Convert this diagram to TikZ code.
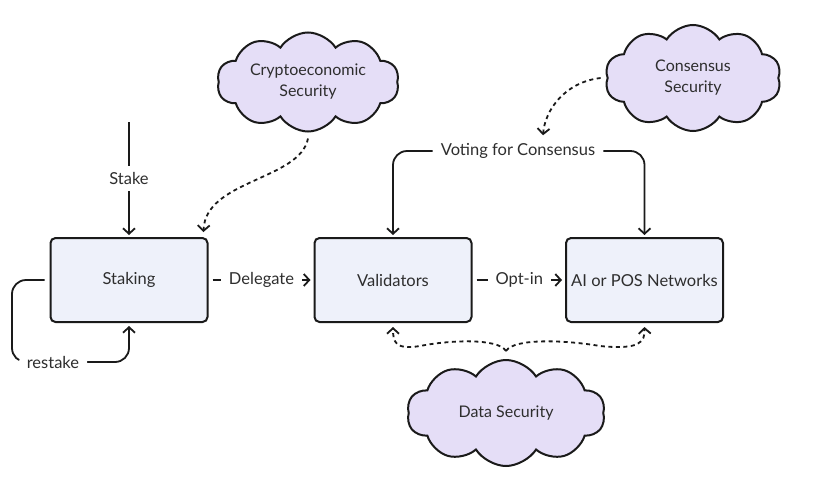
\documentclass[tikz,border=0pt]{standalone}
\usepackage{fontspec}
\setmainfont{Lato}
\usetikzlibrary{shapes.symbols,arrows.meta,calc}
\definecolor{linec}{HTML}{1A1A1A}
\definecolor{txtc}{HTML}{2E2E2E}
\definecolor{boxfill}{HTML}{EEF1FA}
\definecolor{cloudfill}{HTML}{E5DEF7}
\tikzset{
  box/.style={draw=linec,line width=2pt,fill=boxfill,rounded corners=5pt,minimum width=157pt,minimum height=84pt,text=txtc,font=\fontsize{16.5}{18}\selectfont},
  cloudy/.style={cloud,cloud puffs=10,cloud puff arc=115,cloud ignores aspect,draw=linec,line width=2pt,fill=cloudfill,text=txtc,align=center,font=\fontsize{16}{21}\selectfont},
  lbl/.style={fill=white,text=txtc,inner xsep=8pt,inner ysep=6pt,font=\fontsize{16.5}{18}\selectfont},
  arr/.style={draw=linec,line width=1.8pt,-{Straight Barb[length=5.5pt,width=12pt,line width=1.8pt]}},
  dasharr/.style={arr,dash pattern=on 4pt off 3.5pt},
}
\begin{document}
\begin{tikzpicture}[x=1pt,y=-1pt]
\useasboundingbox (0,0) rectangle (834,485);
\fill[white] (0,0) rectangle (834,485);
\node[box] (staking) at (129,280) {Staking};
\node[box] (valid) at (393,280) {Validators};
\node[box] (ai) at (644.5,280) {AI or POS Networks};
\node[cloudy,minimum width=182pt,minimum height=99pt] (crypto) at (308,82) {Cryptoeconomic\\Security};
\node[cloudy,minimum width=176pt,minimum height=106pt] (cons) at (693,78) {Consensus\\Security};
\node[cloudy,minimum width=198pt,minimum height=106pt] (data) at (506,413) {Data Security};
\coordinate (stakestart) at (129,122);
\draw[arr] (stakestart) -- node[lbl]{Stake} ($(staking.north)+(0,-2)$);
\draw[dasharr] ($(crypto.south)+(0,6)$) .. controls (300,180) and (205,180) .. ($(staking.north east)+(-5,-5)$);
\draw[arr,rounded corners=14pt] ($(staking.west)+(-5,0)$) -- (12,280) -- (12,362) -- node[lbl,pos=0.35]{restake} (129,362) -- ($(staking.south)+(0,3)$);
\draw[arr] ($(staking.east)+(4,0)$) -- node[lbl]{Delegate} ($(valid.west)+(-3,0)$);
\draw[arr] ($(valid.east)+(4,0)$) -- node[lbl]{Opt-in} ($(ai.west)+(-3,0)$);
\node[lbl] (vote) at (518,151) {Voting for Consensus};
\draw[arr,rounded corners=14pt] (vote.west) -| ($(valid.north)+(0,-2)$);
\draw[arr,rounded corners=14pt] (vote.east) -| ($(ai.north)+(0,-2)$);
\draw[dasharr] ($(cons.west)+(-6,0)$) .. controls (565,82) and (545,110) .. ($(vote.north)+(25,-2)$);
\draw[dasharr] ($(data.north)+(0,-8)$) .. controls (498,338) and (450,340) .. (420,346) .. controls (395,350) and (393,342) .. ($(valid.south)+(0,4)$);
\draw[dasharr] ($(data.north)+(0,-8)$) .. controls (514,338) and (565,340) .. (600,346) .. controls (640,350) and (645,342) .. ($(ai.south)+(0,4)$);
\end{tikzpicture}
\end{document}
